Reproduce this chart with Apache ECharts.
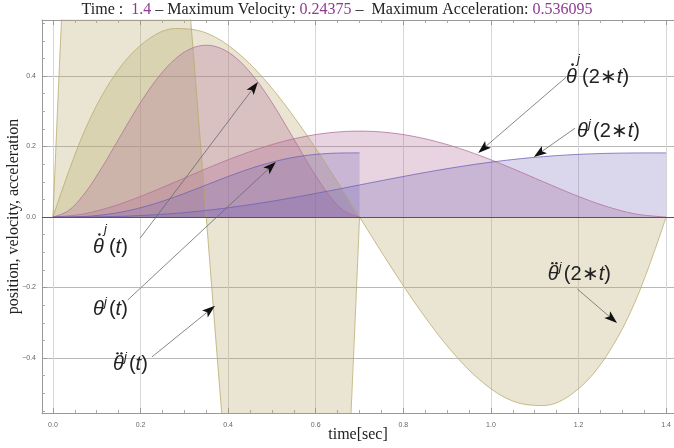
<!DOCTYPE html>
<html><head><meta charset="utf-8">
<script src="https://cdn.jsdelivr.net/npm/echarts@6/dist/echarts.min.js"></script>
<style>html,body{margin:0;padding:0;background:#fff}#c{width:674px;height:448px}</style>
</head><body><div id="c"></div>
<script>
// ---- data ----
const timeFast = [0,0.035,0.07,0.105,0.14,0.175,0.21,0.245,0.28,0.315,0.35,0.385,0.42,0.455,0.49,0.525,0.56,0.595,0.63,0.665,0.7];
const timeSlow = [0,0.07,0.14,0.21,0.28,0.35,0.42,0.49,0.56,0.63,0.7,0.77,0.84,0.91,0.98,1.05,1.12,1.19,1.26,1.33,1.4];
const posFast = [0,0.000211,0.001558,0.004843,0.010541,0.018840,0.029681,0.042801,0.057774,0.074051,0.091,0.107949,0.124226,0.139199,0.152319,0.163160,0.171459,0.177157,0.180442,0.181789,0.182];
const posSlow = [0,0.000211,0.001558,0.004843,0.010541,0.018840,0.029681,0.042801,0.057774,0.074051,0.091,0.107949,0.124226,0.139199,0.152319,0.163160,0.171459,0.177157,0.180442,0.181789,0.182];
const velFast = [0,0.017599,0.06318,0.126799,0.19968,0.274219,0.34398,0.403699,0.44928,0.477799,0.4875,0.477799,0.44928,0.403699,0.34398,0.274219,0.19968,0.126799,0.06318,0.017599,0];
const velSlow = [0,0.0088,0.03159,0.0634,0.09984,0.137109,0.17199,0.201849,0.22464,0.2389,0.24375,0.2389,0.22464,0.201849,0.17199,0.137109,0.09984,0.0634,0.03159,0.0088,0];
const accFast = [0,0.952714,1.604571,1.989,2.139429,2.089286,1.872,1.521,1.069714,0.551571,0,-0.551571,-1.069714,-1.521,-1.872,-2.089286,-2.139429,-1.989,-1.604571,-0.952714,0];
const accSlow = [0,0.238179,0.401143,0.49725,0.534857,0.522321,0.468,0.38025,0.267429,0.137893,0,-0.137893,-0.267429,-0.38025,-0.468,-0.522321,-0.534857,-0.49725,-0.401143,-0.238179,0];

const titleTime = '1.4';
const titleMaxVel = '0.24375';
const titleMaxAcc = '0.536095';
const xAxisTitle = 'time[sec]';
const yAxisTitle = 'position, velocity, acceleration';

// annotations: label anchor (data units) and arrow start/end (data units)
const labels = [
  {dots:1, arg:'t',   t:0.0913, v:-0.085},
  {dots:0, arg:'t',   t:0.0913, v:-0.262},
  {dots:2, arg:'t',   t:0.137,  v:-0.418},
  {dots:1, arg:'2∗t', t:1.1715, v:0.397},
  {dots:0, arg:'2∗t', t:1.1966, v:0.244},
  {dots:2, arg:'2∗t', t:1.130,  v:-0.162}
];
const arrows = [
  {from:[0.199,-0.060], to:[0.468,0.383]},
  {from:[0.171,-0.235], to:[0.509,0.156]},
  {from:[0.226,-0.397], to:[0.370,-0.252]},
  {from:[1.172,0.397],  to:[0.971,0.182]},
  {from:[1.192,0.252],  to:[1.098,0.170]},
  {from:[1.197,-0.204], to:[1.288,-0.301]}
];

// ---- styling ----
const colPos = '#6b5fb5', colVel = '#b26e98', colAcc = '#b5a86a';
const zip = (xs, ys) => xs.map((x, i) => [x, ys[i]]);
function mkSeries(name, xs, ys, col, op, extra) {
  return Object.assign({
    name, type:'line', data: zip(xs, ys), smooth: 0.35, showSymbol:false, symbol:'none',
    clip:true, silent:true,
    lineStyle:{color:col, width:1, opacity:0.75},
    areaStyle:{color:col, opacity:op}
  }, extra || {});
}
const onTick = v => Math.abs(v/0.2 - Math.round(v/0.2)) < 1e-6;
const fmt = v => {
  if (!onTick(v)) return '';
  const s = Math.abs(v).toFixed(1);
  return v < -1e-9 ? '\u2212' + s : s;
};

const option = {
  animation:false,
  backgroundColor:'#fff',
  title:{
    left:'center', top:2, padding:0,
    text:'{k|Time :  }{v|'+titleTime+'}{k| – Maximum Velocity: }{v|'+titleMaxVel+'}{k| –  Maximum Acceleration: }{v|'+titleMaxAcc+'}',
    textStyle:{fontWeight:'normal', rich:{
      k:{fontFamily:'Liberation Serif', fontSize:16, fontWeight:'normal', color:'#222'},
      v:{fontFamily:'Liberation Serif', fontSize:16, fontWeight:'normal', color:'#8e3a93'}
    }}
  },
  grid:{left:42, right:0, top:20, bottom:35, containLabel:false, outerBoundsMode:'none'},
  xAxis:[{
    type:'value', position:'bottom', min:-0.025, max:1.418, minInterval:0.2, maxInterval:0.2, splitNumber:7,
    axisLine:{show:true, onZero:false, lineStyle:{color:'#999', width:1}},
    axisTick:{show:true, inside:true, length:5, lineStyle:{color:'#999'}},
    minorTick:{show:true, splitNumber:4, length:3, lineStyle:{color:'#aaa'}},
    axisLabel:{fontSize:7, color:'#666', margin:9, formatter:fmt},
    splitLine:{show:true, lineStyle:{color:'#d6d6d6', width:1}}
  },{
    type:'value', position:'top', min:-0.025, max:1.418, minInterval:0.2, maxInterval:0.2, splitNumber:7,
    axisLine:{show:true, onZero:false, lineStyle:{color:'#999', width:1}},
    axisTick:{show:true, inside:true, length:5, lineStyle:{color:'#999'}},
    minorTick:{show:true, splitNumber:4, length:3, lineStyle:{color:'#aaa'}},
    axisLabel:{show:false}, splitLine:{show:false}
  }],
  yAxis:{
    type:'value', min:-0.556, max:0.559, minInterval:0.2, maxInterval:0.2, splitNumber:5,
    axisLine:{show:true, onZero:false, lineStyle:{color:'#999', width:1}},
    axisTick:{show:true, inside:true, length:5, lineStyle:{color:'#999'}},
    minorTick:{show:true, splitNumber:4, length:3, lineStyle:{color:'#aaa'}},
    axisLabel:{fontSize:7, color:'#666', margin:6, formatter:fmt},
    splitLine:{show:true, lineStyle:{color:'#b8b8b8', width:1}}
  },
  series:[
    mkSeries('accSlow', timeSlow, accSlow, colAcc, 0.3, {
      markLine:{silent:true, symbol:'none', label:{show:false},
        lineStyle:{color:'#555', width:1, type:'solid'}, data:[{yAxis:0}]}
    }),
    mkSeries('accFast', timeFast, accFast, colAcc, 0.3),
    mkSeries('velSlow', timeSlow, velSlow, colVel, 0.3),
    mkSeries('velFast', timeFast, velFast, colVel, 0.3),
    mkSeries('posSlow', timeSlow, posSlow, colPos, 0.25),
    mkSeries('posFast', timeFast, posFast, colPos, 0.25)
  ]
};

const chart = echarts.init(document.getElementById('c'), null, {renderer:'canvas'});
chart.setOption(option);

function px(t, v) { return chart.convertToPixel({xAxisIndex:0, yAxisIndex:0}, [t, v]); }
const g = [];
// axis titles, centred on the plot area
const yMid = (px(0, 0.559)[1] + px(0, -0.556)[1]) / 2;
const xMid = (px(-0.025, 0)[0] + px(1.418, 0)[0]) / 2;
g.push({type:'text', silent:true, x:14, y:yMid, rotation:Math.PI/2,
  style:{text:yAxisTitle, fontFamily:'Liberation Serif', fontSize:16, fill:'#222', align:'center', verticalAlign:'middle'}});
g.push({type:'text', silent:true, x:xMid, y:435,
  style:{text:xAxisTitle, fontFamily:'Liberation Serif', fontSize:16, fill:'#222', align:'center', verticalAlign:'middle'}});
arrows.forEach(a => {
  const p0 = px(a.from[0], a.from[1]), p1 = px(a.to[0], a.to[1]);
  const dx = p1[0]-p0[0], dy = p1[1]-p0[1], L = Math.hypot(dx, dy);
  const ux = dx/L, uy = dy/L, nx = -uy, ny = ux;
  const hl = 13, hw = 4.5, notch = 3;
  const bx = p1[0]-ux*hl, by = p1[1]-uy*hl;
  const mx = p1[0]-ux*(hl-notch), my = p1[1]-uy*(hl-notch);
  g.push({type:'line', silent:true, z:100, shape:{x1:p0[0], y1:p0[1], x2:mx, y2:my},
    style:{stroke:'#6a6a6a', lineWidth:0.8}});
  g.push({type:'polygon', silent:true, z:101, shape:{points:[[p1[0],p1[1]],[bx+nx*hw,by+ny*hw],[mx,my],[bx-nx*hw,by-ny*hw]]},
    style:{fill:'#111'}});
});
labels.forEach(lb => {
  const [x, y] = px(lb.t, lb.v);
  const ff = 'Liberation Sans';
  g.push({type:'text', silent:true, z:102, x:x, y:y,
    style:{text:'θ', fontFamily:ff, fontStyle:'italic', fontSize:20, fill:'#222', align:'left', verticalAlign:'middle'}});
  if (lb.dots === 1) {
    g.push({type:'circle', silent:true, z:102, shape:{cx:x+6.5, cy:y-12.5, r:1.3}, style:{fill:'#222'}});
  } else if (lb.dots === 2) {
    g.push({type:'circle', silent:true, z:102, shape:{cx:x+4.5, cy:y-11, r:1.2}, style:{fill:'#222'}});
    g.push({type:'circle', silent:true, z:102, shape:{cx:x+8.5, cy:y-11, r:1.2}, style:{fill:'#222'}});
  }
  const jy = lb.dots === 1 ? y-18 : y-7;
  g.push({type:'text', silent:true, z:102, x:x+11, y:jy,
    style:{text:'j', fontFamily:ff, fontStyle:'italic', fontSize:13, fill:'#222', align:'left', verticalAlign:'middle'}});
  const pre = lb.arg === 't' ? '(' : '(2∗';
  g.push({type:'text', silent:true, z:102, x:x+16, y:y,
    style:{text:'{n|'+pre+'}{i|t}{n|)}', align:'left', verticalAlign:'middle',
      rich:{n:{fontFamily:ff, fontSize:20, fill:'#222', color:'#222'}, i:{fontFamily:ff, fontStyle:'italic', fontSize:20, fill:'#222', color:'#222'}}}});
});
chart.setOption({graphic:g});
</script>
</body></html>
